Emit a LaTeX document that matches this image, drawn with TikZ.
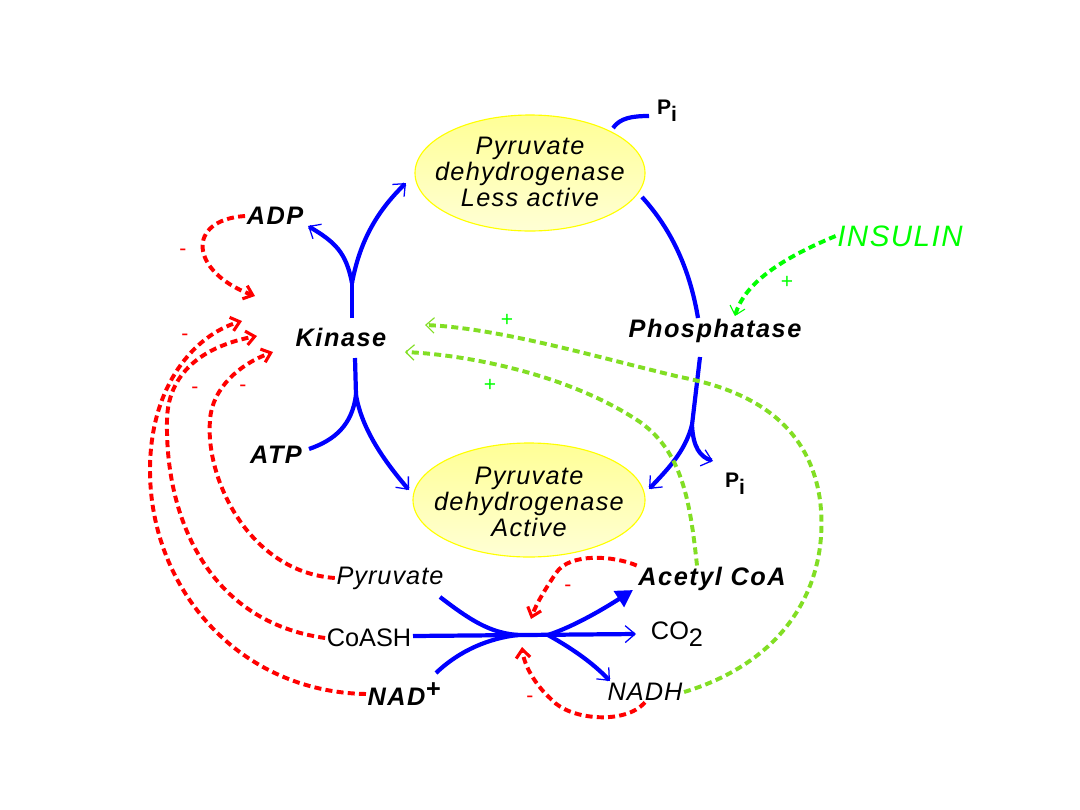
\documentclass[tikz,border=0pt]{standalone}
\usepackage{fontspec}
\setmainfont{Liberation Sans}
\usetikzlibrary{arrows.meta,shapes.geometric}
\definecolor{pblue}{RGB}{0,0,255}
\definecolor{pred}{RGB}{255,0,0}
\definecolor{pgreen}{RGB}{0,255,0}
\definecolor{lgreen}{RGB}{130,222,36}
\definecolor{ey}{RGB}{255,255,0}
\definecolor{eyfill}{RGB}{255,255,150}
\begin{document}
\begin{tikzpicture}[x=0.025cm,y=-0.025cm,
  enzshape/.style={draw=ey, line width=0.8pt, top color=eyfill, bottom color=eyfill!40!white},
  enz/.style={inner sep=0pt, align=center,
    font=\fontsize{18}{18.3}\selectfont\itshape\addfontfeature{LetterSpace=5}},
  labb/.style={font=\fontsize{18}{20}\selectfont\itshape\bfseries\addfontfeature{LetterSpace=6}, inner sep=1pt},
  labi/.style={font=\fontsize{18}{20}\selectfont\itshape\addfontfeature{LetterSpace=4}, inner sep=1pt},
  labu/.style={font=\fontsize{18}{20}\selectfont, inner sep=1pt},
  pi/.style={font=\fontsize{15}{16}\selectfont\bfseries, inner sep=1pt},
  bl/.style={pblue, line width=3pt},
  btip/.style={-{Straight Barb[length=7pt,width=12pt,line width=0.9pt]}},
  rd/.style={pred, line width=2.8pt, dash pattern=on 5pt off 3pt},
  rtip/.style={-{Straight Barb[length=6pt,width=10pt,line width=2.2pt]}},
  gd/.style={lgreen, line width=2.8pt, dash pattern=on 5pt off 3pt},
  gtip/.style={-{Straight Barb[length=6pt,width=11pt,line width=0.8pt]}},
  sgn/.style={font=\fontsize{15}{15}\selectfont, inner sep=0pt}
]
\useasboundingbox (0,0) rectangle (1080,810);

% enzymes
\path[enzshape] (530,173) ellipse [x radius=115, y radius=58];
\path[enzshape] (529,500) ellipse [x radius=116, y radius=57];
\node[enz] (pdhL) at (530,172) {Pyruvate\\dehydrogenase\\Less active};
\node[enz] (pdhA) at (529,502) {Pyruvate\\dehydrogenase\\Active};

% labels
\node[pi] (pi1) at (667,111) {P\raisebox{-0.6ex}{i}};
\node[labb] (adp) at (275,216) {ADP};
\node[labb] (kin) at (341,337) {Kinase};
\node[labb] (atp) at (276,455) {ATP};
\node[labb] (pho) at (715,331) {Phosphatase};
\node[pi] (pi2) at (735,484) {P\raisebox{-0.6ex}{i}};
\node[font=\fontsize{21}{22}\selectfont\itshape\addfontfeature{LetterSpace=5}, text=pgreen, inner sep=1pt] (ins) at (900,236) {INSULIN};
\node[labi] (pyr) at (390,578) {Pyruvate};
\node[labb] (acoa) at (712,579) {Acetyl CoA};
\node[labu] (coash) at (369,638) {CoASH};
\node[labu] (co2) at (677,634) {CO\raisebox{-0.55ex}{2}};
\node[labb] (nad) at (404,694) {NAD\raisebox{0.55ex}{+}};
\node[labi] (nadh) at (645,692) {NADH};

% coordinates
\coordinate (kU) at (352,318);
\coordinate (kJ) at (352,283);
\coordinate (kD) at (355,358);
\coordinate (kJ2) at (356,395);
\coordinate (adpE) at (308,226);
\coordinate (pdhLin) at (406,183);
\coordinate (atpE) at (309,449);
\coordinate (pdhAin) at (409,490);
\coordinate (pdhLout) at (642,197);
\coordinate (phU) at (698,318);
\coordinate (phD) at (700,357);
\coordinate (phJ) at (692,425);
\coordinate (pdhAin2) at (649,489);
\coordinate (pi2E) at (713,461);
\coordinate (pdhLpi) at (613,128);
\coordinate (pi1E) at (649,116);
\coordinate (cL) at (413,636);
\coordinate (cR) at (636,634);
\coordinate (pyrE) at (440,597);
\coordinate (nadE) at (436,673);
\coordinate (mid1) at (518,635);
\coordinate (mid2) at (548,635);
\coordinate (acoaE) at (633,590);
\coordinate (nadhE) at (610,681);

% blue kinase paths
\draw[bl] (kU) -- (kJ);
\draw[bl,btip] (kJ) .. controls (346,252) and (335,242) .. (adpE);
\draw[bl,btip] (kJ) .. controls (360,240) and (378,210) .. (pdhLin);
\draw[bl] (kD) -- (kJ2);
\draw[bl] (atpE) .. controls (335,440) and (352,425) .. (kJ2);
\draw[bl,btip] (kJ2) .. controls (362,430) and (385,462) .. (pdhAin);
% blue phosphatase paths
\draw[bl] (pdhLout) .. controls (672,230) and (690,270) .. (phU);
\draw[bl] (phD) -- (phJ);
\draw[bl,btip] (phJ) .. controls (685,452) and (667,470) .. (pdhAin2);
\draw[bl,btip] (phJ) .. controls (693,447) and (700,457) .. (pi2E);
\draw[bl] (pdhLpi) .. controls (620,118) and (632,116) .. (pi1E);

% reaction
\draw[bl,btip] (cL) -- (cR);
\draw[bl] (pyrE) .. controls (470,620) and (490,633) .. (mid1);
\draw[bl] (nadE) .. controls (460,650) and (490,638) .. (mid1);
\draw[bl,-{Triangle[length=12pt,width=13pt]}] (mid2) .. controls (575,626) and (605,608) .. (acoaE);
\draw[bl,btip] (mid2) .. controls (575,650) and (595,665) .. (nadhE);

% red feedback
\draw[rd,rtip] (adp.west) .. controls (185,220) and (190,272) .. (255,296);
\draw[rd,rtip] (pyr.west) .. controls (250,572) and (205,480) .. (210,420) .. controls (212,388) and (240,364) .. (273,352);
\draw[rd,rtip] (coash.west) .. controls (210,622) and (165,520) .. (167,420) .. controls (168,368) and (210,345) .. (257,336);
\draw[rd,rtip] (nad.west) .. controls (240,692) and (150,590) .. (150,470) .. controls (150,385) and (195,335) .. (242,321);
\draw[rd,rtip] (acoa.north west) .. controls (615,556) and (570,552) .. (556,573) .. controls (546,588) and (536,604) .. (531,619);
\draw[rd,rtip] (nadh.south) .. controls (625,725) and (570,720) .. (552,700) .. controls (535,685) and (524,665) .. (522,647);
\node[sgn, text=pred] at (183,252) {-};
\node[sgn, text=pred] at (185,337) {-};
\node[sgn, text=pred] at (195,390) {-};
\node[sgn, text=pred] at (243,388) {-};
\node[sgn, text=pred] at (568,588) {-};
\node[sgn, text=pred] at (530,699) {-};

% green activation
\draw[pgreen, line width=2.8pt, dash pattern=on 5pt off 3pt, gtip] (ins.west) .. controls (790,255) and (745,280) .. (735,316);
\draw[gd,gtip] (acoa.north) ++(-15,0) .. controls (690,500) and (682,452) .. (640,422) .. controls (570,375) and (470,355) .. (405,352);
\draw[gd,gtip] (nadh.east) .. controls (790,660) and (830,580) .. (820,500) .. controls (810,430) and (760,392) .. (680,377) .. controls (600,358) and (500,328) .. (425,325);
\node[sgn, text=pgreen] at (787,282) {+};
\node[sgn, text=pgreen] at (490,385) {+};
\node[sgn, text=pgreen] at (507,320) {+};
\end{tikzpicture}
\end{document}
